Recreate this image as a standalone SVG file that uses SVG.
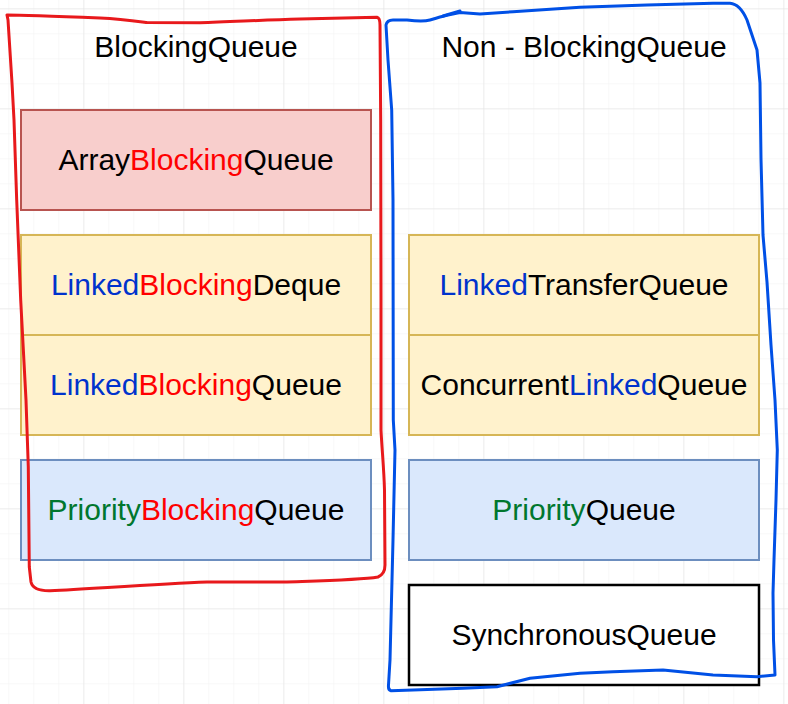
<svg xmlns="http://www.w3.org/2000/svg" width="788" height="704" viewBox="0 0 788 704">
  <defs>
    <pattern id="minor" patternUnits="userSpaceOnUse" x="8.33" y="8.33" width="25" height="25">
      <path d="M0,0 H25 M0,0 V25" fill="none" stroke="#f1f1f1" stroke-width="1"/>
    </pattern>
    <pattern id="major" patternUnits="userSpaceOnUse" x="83.33" y="8.33" width="100" height="100">
      <path d="M0,0 H100 M0,0 V100" fill="none" stroke="#e2e2e2" stroke-width="1"/>
    </pattern>
    <style>
      text { font-family: "Liberation Sans", Arial, sans-serif; font-size: 30px; fill: #000; text-anchor: middle; }
      .red { fill: #ff0000; }
      .blue { fill: #0033cc; }
      .green { fill: #00772e; }
      .pink { fill: #f8cecc; stroke: #b85450; stroke-width: 2; }
      .yellow { fill: #fff2cc; stroke: #d6b656; stroke-width: 2; }
      .lblue { fill: #dae8fc; stroke: #6c8ebf; stroke-width: 2; }
      .plain { fill: #ffffff; stroke: #000000; stroke-width: 2.5; }
      .hand { fill: none; stroke-width: 3; stroke-linejoin: round; stroke-linecap: round; }
    </style>
  </defs>
  <rect width="788" height="704" fill="#ffffff"/>
  <rect width="788" height="704" fill="url(#minor)"/>
  <rect width="788" height="704" fill="url(#major)"/>

  <g id="ArrayBlockingQueue">
    <rect class="pink" x="21" y="110" width="350" height="100"/>
    <text x="196" y="170">Array<tspan class="red">Blocking</tspan>Queue</text>
  </g>
  <g id="LinkedBlockingDeque">
    <rect class="yellow" x="21" y="235" width="350" height="100"/>
    <text x="196" y="295"><tspan class="blue">Linked</tspan><tspan class="red">Blocking</tspan>Deque</text>
  </g>
  <g id="LinkedBlockingQueue">
    <rect class="yellow" x="21" y="335" width="350" height="100"/>
    <text x="196" y="395"><tspan class="blue">Linked</tspan><tspan class="red">Blocking</tspan>Queue</text>
  </g>
  <g id="PriorityBlockingQueue">
    <rect class="lblue" x="21" y="460" width="350" height="100"/>
    <text x="196" y="520"><tspan class="green">Priority</tspan><tspan class="red">Blocking</tspan>Queue</text>
  </g>
  <g id="LinkedTransferQueue">
    <rect class="yellow" x="409" y="235" width="350" height="100"/>
    <text x="584" y="295"><tspan class="blue">Linked</tspan>TransferQueue</text>
  </g>
  <g id="ConcurrentLinkedQueue">
    <rect class="yellow" x="409" y="335" width="350" height="100"/>
    <text x="584" y="395">Concurrent<tspan class="blue">Linked</tspan>Queue</text>
  </g>
  <g id="PriorityQueue">
    <rect class="lblue" x="409" y="460" width="350" height="100"/>
    <text x="584" y="520"><tspan class="green">Priority</tspan>Queue</text>
  </g>
  <g id="SynchronousQueue">
    <rect class="plain" x="409" y="585" width="350" height="100"/>
    <text x="584" y="645">SynchronousQueue</text>
  </g>

  <g id="BlockingGroup">
    <path class="hand" stroke="#e8191c" d="M7,15 C20,15 50,16 100,18 C120,19 135,21 147,22.5 L200,22.7 C230,22 260,20 300,19 L377,17.3 Q380,18 380,25 L380.7,120 L381,300 L381,430 C382,450 384,470 384.5,490 L385,565 Q385,574 378,577 C360,580 330,580.5 283,582 L207,582 C160,584 100,588 50,590.7 Q33,591 31,582 L29.3,567 L28.3,467 L26,400 L20.7,300 L16.7,200 L14,120 L12,83 L8,20 Z"/>
    <text x="196" y="57">BlockingQueue</text>
  </g>
  <g id="NonBlockingGroup">
    <path class="hand" stroke="#0050e6" d="M386,25 Q387,20 393,20 L407,20 C415,21 423,22 430,20 C437,18 443,16 448,15 L460,12.5 L480,14 L513,11.7 L580,7.3 L647,5 L713,3.3 L730,3.3 Q740,4 747,20 L757,50 L760,83 L761,159 L763,235 L767,282 L771,345 L775,400 L777.3,450 L776,500 L774,560 L773,593 L773.5,640 L775,675 L757,676.7 L713,675 L663,670 L613,671.7 L580,673.3 L530,678.3 L497,686.7 L463,688.3 L413,690 L391,690.7 Q388,690 388.5,685 L390,660 L391.5,600 L393,540 L395,450 L393.3,420 L393,200 L391.7,110 L388,60 Z"/>
    <path class="hand" stroke="#0050e6" d="M443,16 L460,11"/>
    <text x="584" y="57">Non - BlockingQueue</text>
  </g>
</svg>
